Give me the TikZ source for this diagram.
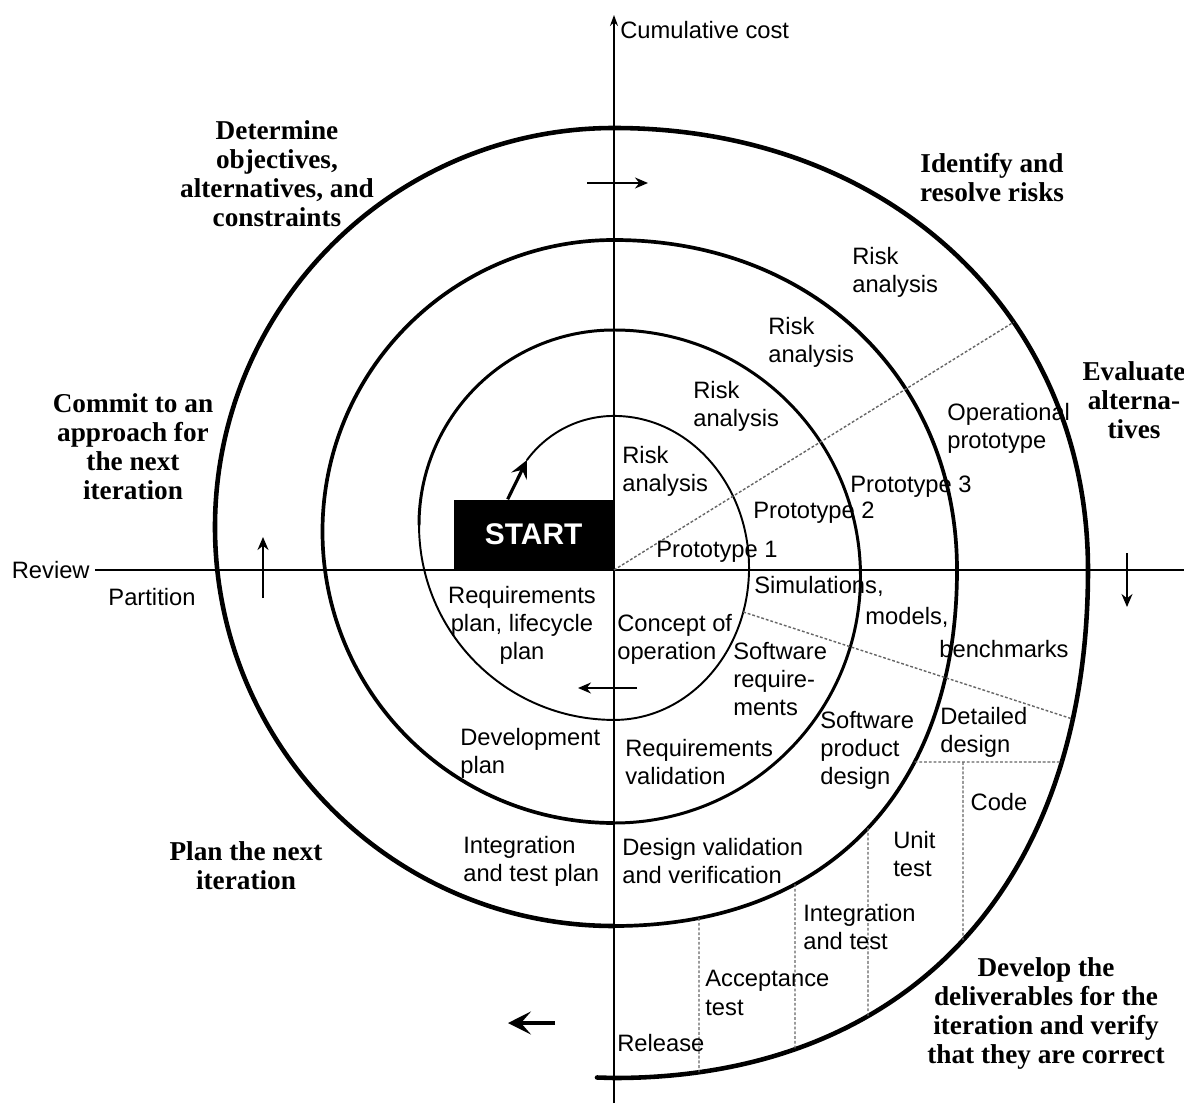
\documentclass[tikz,border=0pt]{standalone}
\usepackage{fontspec}
\setmainfont{Liberation Serif}
\setsansfont{Liberation Sans}
\usetikzlibrary{arrows.meta, intersections}

\tikzset{
  lbl/.style={font=\sffamily\fontsize{13.5}{16}\selectfont, inner sep=0pt,
    align=left},
  phase/.style={font=\bfseries\fontsize{15.5}{16.5}\selectfont, inner sep=0pt,
    align=center},
  axisline/.style={line width=0.9pt},
  turnA/.style={line width=1.1pt, line cap=round},
  turnB/.style={line width=1.7pt, line cap=round},
  turnC/.style={line width=2.1pt, line cap=round},
  turnD/.style={line width=2.6pt, line cap=round},
  dotline/.style={line width=0.8pt, black!60, dash pattern=on 1.6pt off 1.1pt},
  dirarrow/.style={-{Stealth[length=2.6mm, width=2.2mm]}, line width=0.9pt},
  bigarrow/.style={-{Stealth[length=4.6mm, width=4.6mm, inset=2mm]},
    line width=2.2pt},
  startarrow/.style={-{Stealth[length=3.6mm, width=3.4mm, inset=1.4mm]},
    line width=1.8pt},
  startbox/.style={fill=black, text=white, minimum width=3.2cm,
    minimum height=1.4cm, inner sep=0pt,
    font=\sffamily\bfseries\fontsize{17}{17}\selectfont},
}

\begin{document}
\begin{tikzpicture}[x=2mm, y=2mm]
  \fill[white] (-61.4,-53.3) rectangle (57,57);
  \useasboundingbox (-61.4,-53.3) rectangle (57,57);

  % axes
  \coordinate (O) at (0,0);
  \coordinate (ybot) at (0,-53.3);
  \coordinate (ytop) at (0,55.5);
  \coordinate (xend) at (57,0);
  \node[lbl, anchor=east, inner xsep=1mm] (review) at (-51.9,0) {Review};
  \node[lbl, anchor=west] (cumcost) at (0.6,54.0) {Cumulative cost};
  \draw[axisline] (review.east) -- (xend);
  \draw[axisline, -{Stealth[length=2.2mm, width=1.6mm]}] (ybot) -- (ytop);

  % start box
  \node[startbox, anchor=south east] (start) at (O) {START};
  \coordinate (sp) at (-8.7,11.0);
  \draw[startarrow] ([xshift=-5.2mm]start.north) -- (sp);

  % spiral, inside out
  \draw[turnA, name path=t1] (sp) arc[start angle=143.7, end angle=90, radius=10.8]
    arc[start angle=90, end angle=-90, x radius=13.5, y radius=15.2]
    arc[start angle=-90, end angle=-180, radius=19.5];
  \draw[turnB] (-19.5,4.5) arc[start angle=180, end angle=90, radius=19.5]
    arc[start angle=90, end angle=-90, radius=24.65];
  \draw[turnC] (0,-25.3) arc[start angle=-90, end angle=-270, radius=29.15];
  \draw[turnC, name path=t3] (0,33.0) .. controls (19.9,33.0) and (34.3,19.1) .. (34.3,0)
    .. controls (34.3,-22.1) and (21.3,-35.6) .. (0,-35.6);
  \draw[turnD] (0,-35.6) arc[start angle=-90, end angle=-270, radius=39.9];
  \draw[turnD, name path=t4] (0,44.2) .. controls (27.5,44.2) and (47.4,25.6) .. (47.4,0)
    .. controls (47.4,-31.5) and (29.4,-50.8) .. (0,-50.8) -- (-1.7,-50.75);

  % sector lines
  \path[name path=ray1] (O) -- (31.8:60);
  \path[name path=ray2] (O) -- (-18:60);
  \path[name intersections={of=t4 and ray1, by=r1}];
  \path[name intersections={of=t1 and ray2, by=r2a}];
  \path[name intersections={of=t4 and ray2, by=r2b}];
  \draw[dotline] (O) -- (r1);
  \draw[dotline] (r2a) -- (r2b);
  \path[name path=cutH] (1,-19.2) -- (60,-19.2);
  \path[name intersections={of=t3 and cutH, by=hz1}];
  \path[name intersections={of=t4 and cutH, by=hz2}];
  \draw[dotline] (hz1) -- (hz2);
  \foreach \x [count=\i] in {8.5,18.1,25.4} {
    \path[name path=cut\i] (\x,-1) -- (\x,-60);
    \path[name intersections={of=t3 and cut\i, by=up\i}];
    \path[name intersections={of=t4 and cut\i, by=dn\i}];
    \draw[dotline] (up\i) -- (dn\i);
  }
  \coordinate (hz3) at (34.9,-19.2);
  \path[name path=cut4] (hz3) -- (34.9,-60);
  \path[name intersections={of=t4 and cut4, by=dn4}];
  \draw[dotline] (hz3) -- (dn4);

  % direction of travel
  \draw[dirarrow] (-2.7,38.7) -- (3.4,38.7);
  \draw[dirarrow] (51.3,1.7) -- (51.3,-3.7);
  \draw[dirarrow] (-35.1,-2.8) -- (-35.1,3.3);
  \draw[dirarrow] (2.3,-11.8) -- (-3.6,-11.8);
  \draw[bigarrow] (-5.9,-45.3) -- (-10.6,-45.3);

  % quadrant titles
  \node[phase] (determine) at (-33.7,39.6) {Determine\\objectives,\\alternatives, and\\constraints};
  \node[phase] (identify) at (37.8,39.2) {Identify and\\resolve risks};
  \node[phase] (evaluate) at (52.0,17.0) {Evaluate\\alterna-\\tives};
  \node[phase] (commit) at (-48.1,12.3) {Commit to an\\approach for\\the next\\iteration};
  \node[phase] (plannext) at (-36.8,-29.6) {Plan the next\\iteration};
  \node[phase] (develop) at (43.2,-44.3) {Develop the\\deliverables for the\\iteration and verify\\that they are correct};

  % upper right: risk analysis and prototypes
  \node[lbl, anchor=west] (risk1) at (0.8,9.9) {Risk\\analysis};
  \node[lbl, anchor=west] (risk2) at (7.9,16.4) {Risk\\analysis};
  \node[lbl, anchor=west] (risk3) at (15.4,22.8) {Risk\\analysis};
  \node[lbl, anchor=west] (risk4) at (23.8,29.8) {Risk\\analysis};
  \node[lbl, anchor=west] (oper) at (33.3,14.2) {Operational\\prototype};
  \node[lbl] (proto3) at (29.7,8.3) {Prototype 3};
  \node[lbl] (proto2) at (20.0,5.7) {Prototype 2};
  \node[lbl] (proto1) at (10.3,1.8) {Prototype 1};

  % lower right: development
  \node[lbl] (simul) at (20.5,-1.6) {Simulations,};
  \node[lbl] (models) at (29.3,-4.7) {models,};
  \node[lbl] (bench) at (39.0,-7.9) {benchmarks};
  \node[lbl, anchor=west] (concept) at (0.3,-6.9) {Concept of\\operation};
  \node[lbl, anchor=west] (swreq) at (11.9,-10.9) {Software\\require-\\ments};
  \node[lbl, anchor=west] (reqval) at (1.1,-19.2) {Requirements\\validation};
  \node[lbl, anchor=west] (swprod) at (20.6,-18.0) {Software\\product\\design};
  \node[lbl, anchor=west] (detail) at (32.6,-16.2) {Detailed\\design};
  \node[lbl] (code) at (38.5,-23.2) {Code};
  \node[lbl, anchor=west] (unit) at (27.9,-28.4) {Unit\\test};
  \node[lbl, anchor=west] (desval) at (0.8,-29.1) {Design validation\\and verification};
  \node[lbl, anchor=west] (inttest) at (18.9,-35.7) {Integration\\and test};
  \node[lbl, anchor=west] (accept) at (9.1,-42.3) {Acceptance\\test};
  \node[lbl, anchor=west] (release) at (0.3,-47.3) {Release};

  % lower left: plans
  \node[lbl, align=center] (reqplan) at (-9.2,-5.5) {Requirements\\plan, lifecycle\\plan};
  \node[lbl, anchor=west] (devplan) at (-15.4,-18.3) {Development\\plan};
  \node[lbl, anchor=west] (intplan) at (-15.1,-29.1) {Integration\\and test plan};
  \node[lbl] (partition) at (-46.2,-2.7) {Partition};
\end{tikzpicture}
\end{document}
